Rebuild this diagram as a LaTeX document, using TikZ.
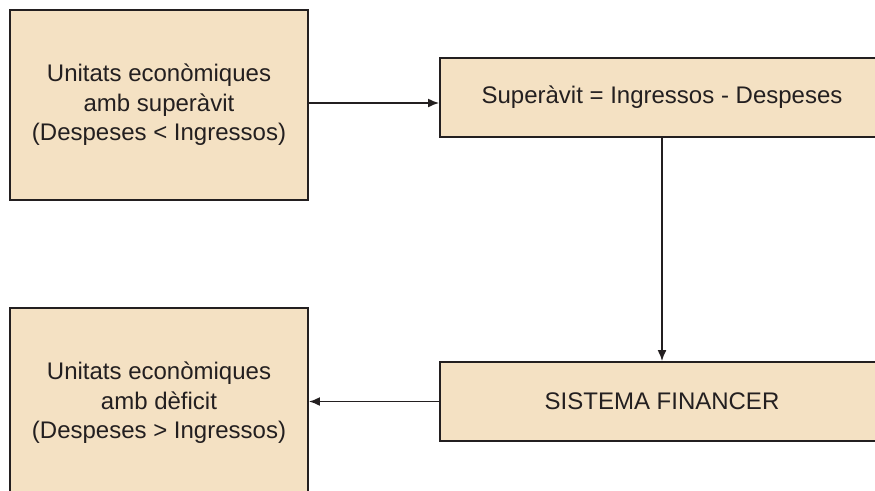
\documentclass[tikz,border=0pt]{standalone}
\usepackage{fontspec}
\setmainfont{Liberation Sans}
\usetikzlibrary{arrows.meta}
\definecolor{boxfill}{HTML}{F4E1C3}
\definecolor{boxline}{HTML}{231F20}

\begin{document}
\begin{tikzpicture}[x=1pt,y=-1pt,-{Latex[length=11pt,width=9pt]},line width=1.8pt,
  every node/.style={font=\fontsize{24}{29.5}\selectfont,text=boxline},
  unitat/.style={draw=boxline,fill=boxfill,rectangle,align=center,minimum width=298pt,minimum height=190pt,inner sep=0pt},
  flux/.style={draw=boxline,fill=boxfill,rectangle,align=center,minimum width=444pt,minimum height=79pt,inner sep=0pt}]
  \useasboundingbox (0,0) rectangle (875,490);
  \clip (0,0) rectangle (875,490);
  \node[unitat] (superavit) at (159,105) {Unitats econòmiques\\amb superàvit\\(Despeses < Ingressos)};
  \node[unitat] (deficit) at (159,403) {Unitats econòmiques\\amb dèficit\\(Despeses > Ingressos)};
  \node[flux] (saldo) at (662,97.5) {Superàvit = Ingressos - Despeses};
  \node[flux] (sistema) at (662,401.5) {SISTEMA FINANCER};
  \coordinate (entrada) at (saldo.west |- 0,103);
  \draw[boxline,line width=1.8pt] (superavit.east |- entrada) -- (entrada);
  \draw[boxline,line width=1.8pt] (saldo.south) -- (sistema.north);
  \draw[boxline,line width=1.8pt] (sistema.west) -- (deficit.east |- sistema);
\end{tikzpicture}
\end{document}
